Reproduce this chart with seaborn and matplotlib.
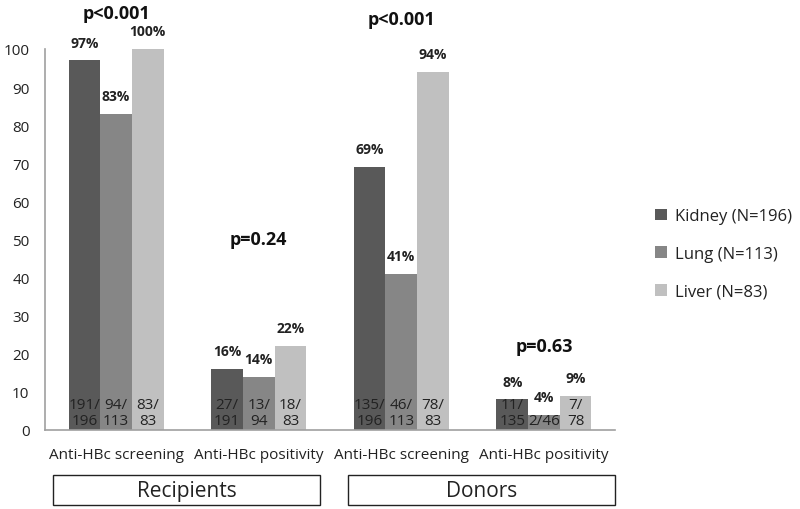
import matplotlib
matplotlib.use("Agg")
import matplotlib.pyplot as plt
import seaborn as sns
import pandas as pd
from matplotlib.patches import Rectangle, Patch

categories = ["Anti-HBc screening", "Anti-HBc positivity", "Anti-HBc screening ", "Anti-HBc positivity "]
organs = ["Kidney (N=196)", "Lung (N=113)", "Liver (N=83)"]
kidney = [97, 16, 69, 8]
lung = [83, 14, 41, 4]
liver = [100, 22, 94, 9]
kidney_frac = ["191/\n196", "27/\n191", "135/\n196", "11/\n135"]
lung_frac = ["94/\n113", "13/\n94", "46/\n113", "2/46"]
liver_frac = ["83/\n83", "18/\n83", "78/\n83", "7/\n78"]
p_values = ["p<0.001", "p=0.24", "p<0.001", "p=0.63"]
p_y = [109.5, 50, 108, 22]
groups = ["Recipients", "Donors"]
colors = ["#595959", "#868686", "#c0c0c0"]

rows = []
for vals, org in zip([kidney, lung, liver], organs):
    for c, v in zip(categories, vals):
        rows.append({"cat": c, "organ": org, "val": v})
df = pd.DataFrame(rows)

sns.set_theme(style="white")
plt.rcParams['font.family'] = ['Open Sans', 'DejaVu Sans']

fig = plt.figure(figsize=(8, 5.1), dpi=100)
ax = fig.add_axes([0.056, 0.155, 0.713, 0.747])
sns.barplot(data=df, x="cat", y="val", hue="organ", order=categories, hue_order=organs,
            palette=colors, width=0.667, gap=0, saturation=1, ax=ax, legend=False,
            linewidth=0, edgecolor="none")

ax.set_ylim(0, 100)
ax.set_xlim(-0.5, 3.5)
ax.set_yticks(range(0, 101, 10))
ax.set_xlabel("")
ax.set_ylabel("")
ax.tick_params(axis="y", labelsize=11, colors="#222222", length=0, pad=11)
ax.tick_params(axis="x", labelsize=11, colors="#222222", length=0, pad=12)
ax.set_xticks(range(4))
ax.set_xticklabels([c.strip() for c in categories])
for s in ["top", "right"]:
    ax.spines[s].set_visible(False)
for s in ["left", "bottom"]:
    ax.spines[s].set_color("#a0a0a0")
    ax.spines[s].set_linewidth(1.2)

fracs = [kidney_frac, lung_frac, liver_frac]
vals_all = [kidney, lung, liver]
for hi, cont in enumerate(ax.containers):
    for ci, bar in enumerate(cont):
        xc = bar.get_x() + bar.get_width() / 2
        h = bar.get_height()
        ax.text(xc, h + 2.8, f"{vals_all[hi][ci]}%", ha="center", va="bottom",
                fontsize=10, fontweight="bold", color="#222222", clip_on=False)
        ax.text(xc, 0.4, fracs[hi][ci], ha="center", va="bottom", fontsize=11,
                color="#222222", linespacing=1.15)

for ci, (p, y) in enumerate(zip(p_values, p_y)):
    ax.text(ci, y, p, ha="center", va="center", fontsize=13, fontweight="bold",
            color="#111111", clip_on=False)

# group boxes
for (x0, x1), g in zip([(53, 320), (348, 615)], groups):
    fig.patches.append(Rectangle((x0 / 800, 1 - 506 / 510), (x1 - x0) / 800, 30 / 510,
                                 transform=fig.transFigure, fill=False, edgecolor="#222222",
                                 linewidth=1.0))
    fig.text((x0 + x1) / 2 / 800, 1 - 492 / 510, g, ha="center", va="center",
             fontsize=15, color="#222222")

handles = [Patch(facecolor=c, edgecolor="none") for c in colors]
fig.legend(handles, organs, loc="center left", bbox_to_anchor=(0.8, 0.5), frameon=False,
           fontsize=12, handlelength=0.7, handleheight=0.7, labelspacing=1.3,
           handletextpad=0.5, labelcolor="#222222")

fig.savefig("out.png", dpi=100)
